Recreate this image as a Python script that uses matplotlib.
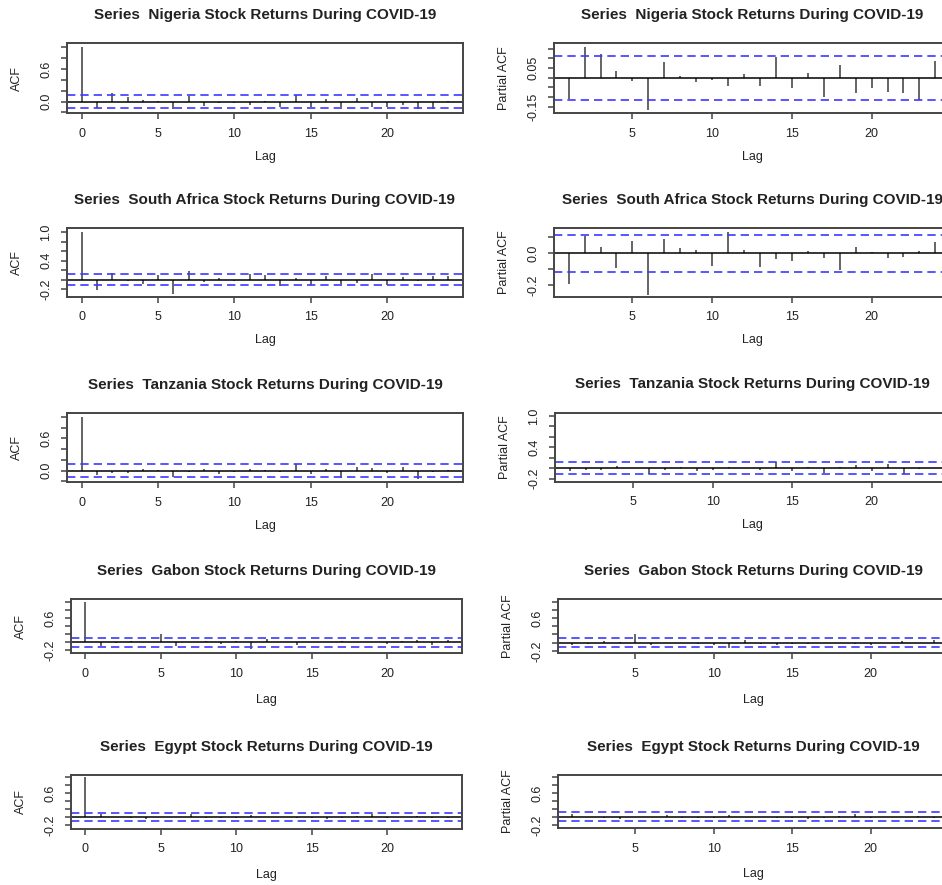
import numpy as np
import matplotlib
matplotlib.use("Agg")
import matplotlib.pyplot as plt

plt.rcParams['font.family'] = ['Liberation Sans', 'DejaVu Sans']

W, H, DPI = 942, 885, 100
PT = 72.0 / DPI   # points per pixel

countries = ["Nigeria", "South Africa", "Tanzania", "Gabon", "Egypt"]

acf_lags = np.arange(0, 25)
pacf_lags = np.arange(1, 25)

# ACF values (lag 0..24)
nigeria_acf = [1.0, -0.12, 0.165, 0.08, 0.03, 0.01, -0.14, 0.10, -0.08, -0.03, -0.03, -0.07, 0.01,
               -0.09, 0.12, -0.10, 0.04, -0.10, 0.07, -0.10, -0.10, -0.06, -0.13, -0.13, 0.02]
safrica_acf = [1.0, -0.21, 0.14, -0.02, -0.09, 0.10, -0.30, 0.19, -0.06, 0.04, -0.02, 0.12, 0.10,
               -0.14, 0.04, -0.11, 0.07, -0.10, -0.07, 0.12, -0.11, 0.05, -0.02, 0.07, 0.07]
tanzania_acf = [1.0, -0.08, -0.05, -0.04, 0.04, 0.01, -0.12, -0.02, 0.03, -0.06, -0.02, 0.03, 0.01,
                -0.02, 0.12, -0.06, 0.03, -0.135, 0.06, 0.055, -0.05, 0.06, -0.15, -0.02, 0.01]
gabon_acf = [1.0, -0.09, -0.01, 0.04, 0.01, 0.20, -0.10, 0.0, 0.03, -0.04, 0.03, -0.16, 0.08,
             0.0, -0.065, 0.0, 0.0, 0.04, 0.0, 0.0, -0.05, 0.03, 0.06, -0.065, 0.07]
egypt_acf = [1.0, 0.08, 0.0, -0.03, -0.05, 0.0, 0.0, 0.07, -0.03, -0.03, -0.02, 0.04, 0.0,
             0.0, -0.02, -0.03, -0.06, -0.03, 0.03, 0.08, -0.03, 0.0, 0.03, -0.03, -0.03]

# PACF values (lag 1..24)
nigeria_pacf = [-0.112, 0.157, 0.122, 0.036, -0.016, -0.167, 0.081, 0.007, -0.024, -0.014, -0.043, 0.021,
                -0.043, 0.105, -0.055, 0.026, -0.098, 0.067, -0.078, -0.055, -0.076, -0.081, -0.115, 0.086]
safrica_pacf = [-0.194, 0.112, 0.04, -0.09, 0.078, -0.263, 0.088, 0.034, 0.019, -0.078, 0.137, 0.019,
                -0.084, -0.038, -0.048, 0.013, -0.027, -0.107, 0.04, 0.008, -0.03, -0.025, 0.015, 0.07]
tanzania_pacf = [-0.05, -0.04, -0.04, 0.04, 0.0, -0.11, -0.04, 0.03, -0.05, -0.03, 0.03, 0.0,
                 -0.03, 0.11, -0.06, 0.03, -0.09, 0.03, 0.05, -0.05, 0.08, -0.12, -0.02, 0.0]
gabon_pacf = [-0.07, -0.04, 0.05, 0.01, 0.22, -0.06, 0.0, 0.0, -0.04, -0.06, -0.14, 0.06,
              -0.04, -0.06, -0.03, -0.03, 0.0, -0.02, -0.03, -0.05, -0.02, 0.05, 0.0, 0.06]
egypt_pacf = [0.08, 0.0, -0.03, -0.04, 0.0, 0.0, 0.05, -0.03, -0.02, -0.03, 0.05, 0.0,
              0.0, -0.02, -0.03, -0.06, -0.03, 0.03, 0.07, -0.03, 0.0, 0.0, 0.02, -0.03]

acf_vals = [nigeria_acf, safrica_acf, tanzania_acf, gabon_acf, egypt_acf]
pacf_vals = [nigeria_pacf, safrica_pacf, tanzania_pacf, gabon_pacf, egypt_pacf]
conf = [0.113, 0.115, 0.115, 0.11, 0.112]

# y ranges as seen in the picture
acf_ylim = [(-0.215, 1.072), (-0.36, 1.085), (-0.21, 1.064), (-0.27, 1.062), (-0.29, 1.058)]
pacf_ylim = [(-0.184, 0.178), (-0.274, 0.158), (-0.26, 1.06), (-0.26, 1.055), (-0.28, 1.06)]

# ticks and which of them get a label
acf_ticks = [np.arange(-0.2, 1.01, 0.2)] * 5
acf_labels = [["0.0", "0.6"], ["-0.2", "0.4", "1.0"], ["0.0", "0.6"], ["-0.2", "0.6"], ["-0.2", "0.6"]]
pacf_ticks = [np.arange(-0.15, 0.16, 0.05), np.arange(-0.2, 0.11, 0.1),
              np.arange(-0.2, 1.01, 0.2), np.arange(-0.2, 1.01, 0.2), np.arange(-0.2, 1.01, 0.2)]
pacf_labels = [["-0.15", "0.05"], ["-0.2", "0.0"], ["-0.2", "0.4", "1.0"], ["-0.2", "0.6"], ["-0.2", "0.6"]]

# plot boxes in pixels: left, top, right, bottom (right column runs past the image edge)
left_boxes = [(67, 43.3, 463, 113.3), (67, 228.3, 463, 296.7), (67, 413.3, 463, 482),
              (71, 599.3, 462, 653.3), (71, 775, 462, 828.5)]
right_boxes = [(554, 43.3, 950, 113.3), (554, 228.3, 950, 296.7), (555, 412.7, 950, 481.7),
               (558, 599.3, 948, 653.3), (558, 775, 948, 828)]

TXT = '#222222'
fig = plt.figure(figsize=(W / DPI, H / DPI), dpi=DPI)


def fmt(v):
    s = "%.2f" % v if abs(round(v * 20) - v * 20) < 1e-6 and abs(round(v * 10) - v * 10) > 1e-6 else "%.1f" % v
    return s.replace("-0.0", "0.0") if abs(v) < 1e-9 else s


def panel(box, lags, vals, ci, ylim, xlim, xt, yt, ylabs, ylabel, title, tall):
    l, t, r, b = box
    ax = fig.add_axes([l / W, 1 - b / H, (r - l) / W, (b - t) / H])
    ax.vlines(lags, 0, vals, color='#3a3a3a', lw=1.1)
    ax.axhline(0, color='black', lw=1.1)
    for c in (ci, -ci):
        ax.axhline(c, color='#3a3aff', lw=1.2, ls=(0, (5, 3)))
    ax.set_xlim(xlim)
    ax.set_ylim(ylim)
    ax.set_xticks(xt)
    ax.set_xticklabels([str(x) for x in xt])
    ax.set_yticks(yt)
    ax.set_yticklabels([fmt(v) if fmt(v) in ylabs else "" for v in yt])
    for s in ax.spines.values():
        s.set_color('#444444')
        s.set_linewidth(1.4)
    ax.tick_params(direction='out', length=4, width=1.1, color='#444444',
                   labelsize=9, labelcolor=TXT, pad=6.5)
    for lab in ax.get_yticklabels():
        lab.set_rotation(90)
        lab.set_va('center')
        lab.set_ha('right')
    lagoff = 43.5 if tall else 46.5
    ax.annotate("Lag", xy=(0.5, 0), xycoords='axes fraction', xytext=(0, -lagoff * PT),
                textcoords='offset points', ha='center', va='center', fontsize=9, color=TXT)
    ax.annotate(ylabel, xy=(0, 0.5), xycoords='axes fraction', xytext=(-50 * PT, 0),
                textcoords='offset points', ha='center', va='center', rotation=90,
                fontsize=9, color=TXT)
    ax.annotate(title, xy=(0.5, 1), xycoords='axes fraction', xytext=(0, 28.5 * PT),
                textcoords='offset points', ha='center', va='center', fontsize=11,
                fontweight='bold', color=TXT)
    return ax


for i, name in enumerate(countries):
    title = "Series  %s Stock Returns During COVID-19" % name
    tall = i < 3
    panel(left_boxes[i], acf_lags, acf_vals[i], conf[i], acf_ylim[i], (-0.96, 24.96),
          [0, 5, 10, 15, 20], acf_ticks[i], acf_labels[i], "ACF", title, tall)
    panel(right_boxes[i], pacf_lags, pacf_vals[i], conf[i], pacf_ylim[i], (0.08, 24.92),
          [5, 10, 15, 20], pacf_ticks[i], pacf_labels[i], "Partial ACF", title, tall)

fig.savefig("out.png", dpi=DPI)
